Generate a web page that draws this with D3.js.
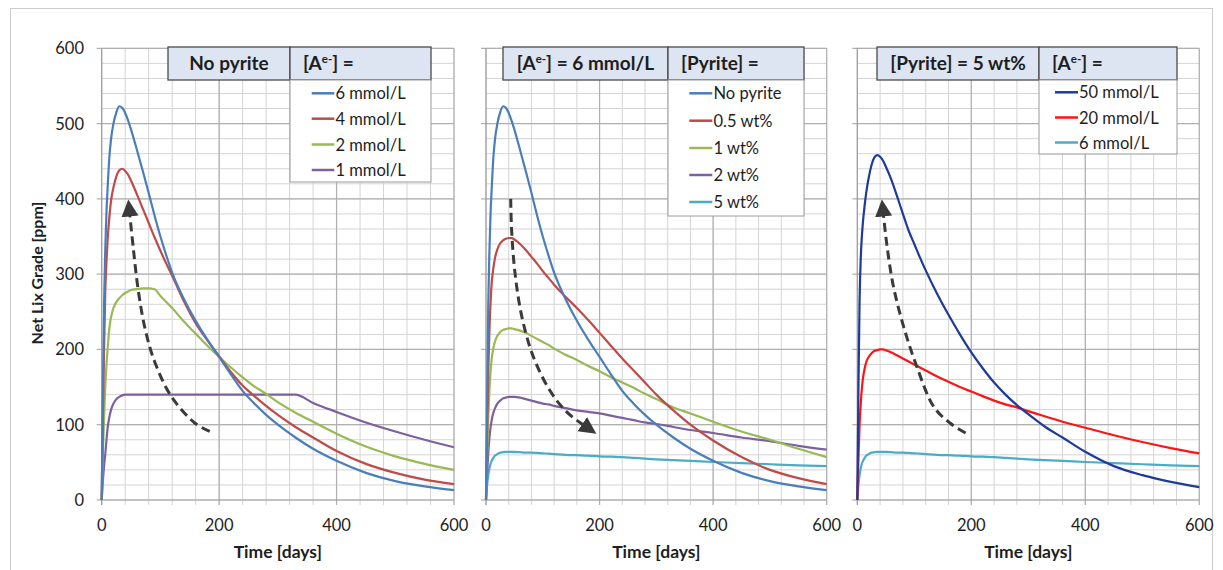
<!DOCTYPE html>
<html><head><meta charset="utf-8">
<script src="https://cdn.jsdelivr.net/npm/d3@7"></script>
<style>body{margin:0;background:#fff;} text{font-family:Lato,"Open Sans",sans-serif;fill:#1e1e1e;}</style>
</head><body><svg id="c" width="1223" height="570"></svg>
<script>
// ---------- DATA ----------
const timeDays = [0,2,4,6,8,10,13,16,20,25,30,35,40,45,50,60,70,80,90,100,110,120,140,160,180,200,220,240,260,280,300,330,360,400,450,500,550,600];
const xTicks = [0,200,400,600];
const yTicks = [0,100,200,300,400,500,600];

// Panel 1: No pyrite, [Ae-] =
const p1Labels = ["6 mmol/L","4 mmol/L","2 mmol/L","1 mmol/L"];
const p1Ae6 = [0,140,260,330,380,413,455,480,500,515,523,521,514,504,492,465,437,408,378,350,325,302,267,238,213,190,167,145,128,113,100,83,68,52,36,25,18,13];
const p1Ae4 = [0,110,200,275,315,345,375,398,415,430,438,440,437,432,424,406,387,368,349,331,314,298,264,235,212,191,170,152,138,125,113,97,83,65,48,36,27,21];
const p1Ae2 = [0,60,110,150,178,200,228,243,255,263,268,272,275,277,279,280,281,281,280,271,263,255,237,221,205,190,176,163,151,141,130,116,104,88,71,58,48,40];
const p1Ae1 = [0,25,45,60,78,95,110,120,128,134,137,139,140,140,140,140,140,140,140,140,140,140,140,140,140,140,140,140,140,140,140,140,129,117,103,91,80,70];

// Panel 2: [Ae-] = 6 mmol/L, [Pyrite] =
const p2Labels = ["No pyrite","0.5 wt%","1 wt%","2 wt%","5 wt%"];
const p2NoPyrite = p1Ae6;
const p2Py05 = [0,90,170,225,262,288,308,322,333,341,345,347,348,348,346,340,332,323,314,304,295,286,270,255,239,222,205,188,172,156,140,119,100,79,57,40,29,21];
const p2Py1  = [0,60,110,145,170,187,202,211,218,223,226,227,228,228,227,225,222,218,214,210,206,201,193,186,178,171,163,156,149,141,134,123,115,104,91,80,68,57];
const p2Py2  = [0,35,62,82,96,106,116,122,128,132,135,136,137,137,137,136,134,132,130,128,127,125,122,119,117,115,112,109,106,103,101,97,93,89,83,78,72,67];
const p2Py5  = [0,20,33,42,48,52,56,59,61,63,63.5,64,64,64,64,63.5,63,63,62.5,62,61.5,61,60,59.5,59,58,57.5,57,56,55,54,53,52,50.5,49,47.5,46,45];

// Panel 3: [Pyrite] = 5 wt%, [Ae-] =
const p3Labels = ["50 mmol/L","20 mmol/L","6 mmol/L"];
const p3Ae50 = [0,150,265,320,350,370,392,410,428,445,455,458,456,451,443,425,403,380,358,340,322,305,274,246,220,196,175,156,140,126,114,97,83,64,45,33,24,17];
const p3Ae20 = [0,55,100,128,148,162,175,184,190,195,198,199,200,200,199,196,192,188,184,180,176,172,164,157,150,144,138,132,127,123,118,111,104,96,86,77,69,62];
const p3Ae6  = p2Py5;

// Dashed trend arrows (day, ppm)
const arrow1 = [[184,91],[159,102],[119,137],[91,182],[74,227],[62,280],[54,333],[48,378]];
const arrow2 = [[43.5,400],[45,360],[51,302],[63,244],[83,191],[112,146],[142,117],[171,100]];
const arrow3 = [[190,89],[163,102],[134,124],[104,178],[81,231],[63,285],[52,338],[46,378]];

// ---------- STYLE / LAYOUT ----------
const C = {blue:"#4a7ebb", red:"#be4b48", green:"#98b954", purple:"#7d60a0", cyan:"#4bacc6", navy:"#1f3a98", brightRed:"#ff1414"};
const panels = [
  {range:[101.7,454], series:[p1Ae6,p1Ae4,p1Ae2,p1Ae1], labels:p1Labels, colors:[C.blue,C.red,C.green,C.purple], arrow:arrow1,
   head:{x:168,w1:122,w2:141,left:"No pyrite",right:"ae"}, leg:{h:102,rows:[93.3,118.7,144.5,170],lx:[311.7,334.3],tx:335.5}, yLabels:true},
  {range:[486,826.7], series:[p2NoPyrite,p2Py05,p2Py1,p2Py2,p2Py5], labels:p2Labels, colors:[C.blue,C.red,C.green,C.purple,C.cyan], arrow:arrow2,
   head:{x:503,w1:165,w2:136,left:"ae6",right:"[Pyrite] ="}, leg:{h:136,rows:[93.3,120.7,148,175,202],lx:[689.3,712.3],tx:713.5}, yLabels:false},
  {range:[857.3,1199.3], series:[p3Ae50,p3Ae20,p3Ae6], labels:p3Labels, colors:[C.navy,C.brightRed,C.cyan], arrow:arrow3,
   head:{x:877,w1:162,w2:138,left:"[Pyrite] = 5 wt%",right:"ae"}, leg:{h:74,rows:[92.3,117.5,142.5],lx:[1055,1078],tx:1079}, yLabels:false}
];

const svg = d3.select("#c");
svg.append("rect").attr("x",10.5).attr("y",8.5).attr("width",1202).attr("height",570)
  .attr("fill","none").attr("stroke","#cccccc");

const y = d3.scaleLinear().domain([0,600]).range([500,48.3]);

const defs = svg.append("defs");
defs.append("marker").attr("id","ah").attr("markerUnits","userSpaceOnUse")
  .attr("viewBox","0 -10 20 20").attr("refX",1).attr("refY",0)
  .attr("markerWidth",20).attr("markerHeight",20).attr("orient","auto")
  .append("path").attr("d","M0,-8.5L17,0L0,8.5Z").attr("fill","#3a3a3a");

function aeText(sel, prefix, suffix){
  sel.append("tspan").text(prefix + "[A");
  sel.append("tspan").attr("font-size",11.5).attr("dy",-7).text("e-");
  sel.append("tspan").attr("dy",7).text("] =" + suffix);
}

panels.forEach((p,pi) => {
  const x = d3.scaleLinear().domain([0,600]).range(p.range);
  const g = svg.append("g");
  const x0 = x(0), x1 = x(600);
  // minor grid
  g.selectAll(".vmin").data(d3.range(0,601,40)).join("line")
    .attr("x1",d=>x(d)).attr("x2",d=>x(d)).attr("y1",y(600)).attr("y2",505)
    .attr("stroke","#d4d4d4").attr("stroke-width",1);
  g.selectAll(".hmin").data(d3.range(0,601,20)).join("line")
    .attr("x1",x0).attr("x2",x1).attr("y1",d=>y(d)).attr("y2",d=>y(d))
    .attr("stroke","#d4d4d4").attr("stroke-width",1);
  // major grid
  g.selectAll(".vmaj").data(xTicks.slice(1)).join("line")
    .attr("x1",d=>x(d)).attr("x2",d=>x(d)).attr("y1",y(600)).attr("y2",505)
    .attr("stroke","#b0b0b0").attr("stroke-width",1.2);
  g.selectAll(".hmaj").data(yTicks.slice(1)).join("line")
    .attr("x1",x0-5).attr("x2",x1).attr("y1",d=>y(d)).attr("y2",d=>y(d))
    .attr("stroke","#b0b0b0").attr("stroke-width",1.2);
  // axes
  g.append("line").attr("x1",x0).attr("x2",x0).attr("y1",y(600)).attr("y2",505).attr("stroke","#9a9a9a").attr("stroke-width",1.2);
  g.append("line").attr("x1",x0-5).attr("x2",x1).attr("y1",y(0)).attr("y2",y(0)).attr("stroke","#9a9a9a").attr("stroke-width",1.2);
  // tick labels
  g.selectAll(".xt").data(xTicks).join("text")
    .attr("x",d=>x(d)).attr("y",525).attr("text-anchor","middle").attr("dominant-baseline","central")
    .attr("font-size",16.5).text(d=>d);
  if (p.yLabels){
    g.selectAll(".yt").data(yTicks).join("text")
      .attr("x",84).attr("y",d=>y(d)).attr("text-anchor","end").attr("dominant-baseline","central")
      .attr("font-size",16.5).text(d=>d);
  }
  g.append("text").attr("x",x(300)).attr("y",551).attr("text-anchor","middle").attr("dominant-baseline","central")
    .attr("font-size",17.5).attr("font-weight","bold").text("Time [days]");
  // series
  const line = d3.line().x((d,i)=>x(timeDays[i])).y(d=>y(d)).curve(d3.curveMonotoneX);
  p.series.slice().reverse().forEach((s,ri) => {
    const k = p.series.length-1-ri;
    g.append("path").attr("d",line(s)).attr("fill","none").attr("stroke",p.colors[k]).attr("stroke-width",2.2);
  });
  // arrow
  const al = d3.line().x(d=>x(d[0])).y(d=>y(d[1])).curve(d3.curveCatmullRom);
  g.append("path").attr("d",al(p.arrow)).attr("fill","none").attr("stroke","#3a3a3a")
    .attr("stroke-width",3).attr("stroke-dasharray","9,5").attr("marker-end","url(#ah)");
  // header
  const h = p.head, hy = 47, hh = 33;
  g.append("rect").attr("x",h.x).attr("y",hy).attr("width",h.w1).attr("height",hh).attr("fill","#dce5f1").attr("stroke","#4a4a4a").attr("stroke-width",1.3);
  g.append("rect").attr("x",h.x+h.w1).attr("y",hy).attr("width",h.w2).attr("height",hh).attr("fill","#dce5f1").attr("stroke","#4a4a4a").attr("stroke-width",1.3);
  // legend box
  g.append("rect").attr("x",h.x+h.w1).attr("y",hy+hh).attr("width",h.w2).attr("height",p.leg.h).attr("fill","#fff").attr("stroke","#9a9a9a").attr("stroke-width",1);
  const lt = g.append("text").attr("x",h.x+h.w1/2).attr("y",70).attr("text-anchor","middle").attr("font-size",19).attr("font-weight","bold");
  if (h.left==="ae6") aeText(lt,""," 6 mmol/L"); else lt.text(h.left);
  const rt = g.append("text").attr("x",h.x+h.w1+13).attr("y",70).attr("font-size",19).attr("font-weight","bold");
  if (h.right==="ae") aeText(rt,"",""); else rt.text(h.right);
  p.labels.forEach((lab,i) => {
    const ry = p.leg.rows[i];
    g.append("line").attr("x1",p.leg.lx[0]).attr("x2",p.leg.lx[1]).attr("y1",ry).attr("y2",ry).attr("stroke",p.colors[i]).attr("stroke-width",2.5);
    g.append("text").attr("x",p.leg.tx).attr("y",ry).attr("dominant-baseline","central").attr("font-size",16.5).text(lab);
  });
});

svg.append("text").attr("transform","translate(36,273) rotate(-90)").attr("text-anchor","middle")
  .attr("dominant-baseline","central").attr("font-size",16).attr("font-weight","bold").text("Net Lix Grade [ppm]");
</script></body></html>
